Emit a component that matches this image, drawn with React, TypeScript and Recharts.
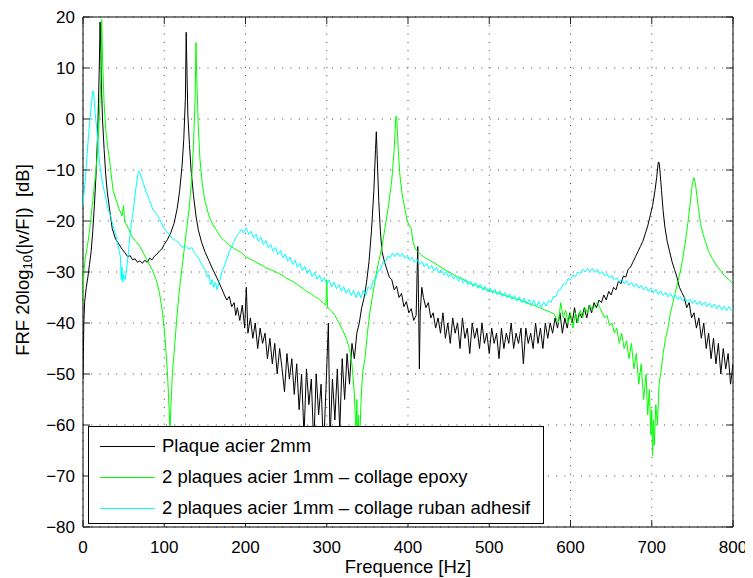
import React from 'react';
import { LineChart, Line, XAxis, YAxis, CartesianGrid, ReferenceArea, Legend } from 'recharts';

// ---------- data ----------
const X_TICKS = [0, 100, 200, 300, 400, 500, 600, 700, 800];
const Y_TICKS = [-80, -70, -60, -50, -40, -30, -20, -10, 0, 10, 20];

const SERIES_NAMES = [
  'Plaque acier 2mm',
  '2 plaques acier 1mm \u2013 collage epoxy',
  '2 plaques acier 1mm \u2013 collage ruban adhesif',
];

// Plaque acier 2mm : [frequency Hz, dB]
const PLAQUE_2MM: [number, number][] = [
  [0, -51], [1, -40], [2, -36], [4, -33], [6, -31], [8, -28.5], [10, -26], [12, -22], [14, -17], [16, -11],
  [18, -3], [19, 3], [20, 10], [21, 19], [22, 13], [23, 5], [24, 0], [26, -6], [28, -11], [30, -14.5],
  [33, -18], [36, -21.5], [40, -23.5], [44, -24.5], [48, -25.5], [52, -26.3], [55, -27], [58, -26.8], [61, -27.6], [64, -27.4],
  [67, -28.1], [70, -27.8], [73, -28.3], [76, -27.7], [79, -28.1], [82, -27.3], [85, -27.6], [88, -26.9], [91, -26.5], [94, -25.9],
  [97, -25.5], [100, -24.6], [104, -23.6], [108, -22.3], [112, -20.5], [116, -17.5], [119, -14], [122, -9], [124, -4], [126, 4],
  [127, 17], [128, 9], [129, 1], [131, -5], [133, -10], [136, -15], [139, -19], [142, -21.8], [146, -24.2], [150, -26],
  [155, -27.8], [160, -29.6], [165, -31.2], [170, -33], [174, -34.5], [177, -35.5], [180, -34.8], [183, -36.8], [186, -36], [188, -38.5],
  [190, -37], [193, -39.5], [196, -36.5], [199, -41], [201, -33], [203, -42], [206, -39], [209, -43], [212, -40], [215, -45],
  [218, -41], [221, -44], [224, -42], [227, -47], [230, -43], [233, -48], [236, -44], [239, -50], [242, -45], [245, -49],
  [248, -53.5], [251, -46], [254, -51], [257, -47], [260, -54], [263, -48], [266, -57], [269, -50], [272, -62], [275, -49],
  [278, -56], [281, -51], [284, -64], [287, -50], [290, -58], [293, -52], [296, -65], [299, -53], [302, -40], [304, -63],
  [307, -51], [310, -59], [313, -49], [316, -61], [319, -47], [322, -55], [325, -46], [328, -52], [331, -44], [334, -47],
  [337, -42], [340, -40], [343, -37], [346, -35], [349, -32], [352, -28], [355, -22], [358, -14], [360, -6], [361, -2.5],
  [362, -7], [364, -16], [366, -22], [368, -26], [371, -28], [374, -29.5], [377, -31], [380, -31.5], [383, -33.5], [386, -32.8],
  [389, -35], [392, -34.2], [395, -36.8], [398, -35.8], [401, -38], [404, -37.2], [407, -39.5], [410, -38.5], [412, -25], [413, -36],
  [414, -49], [415, -38], [417, -33], [419, -35], [422, -37], [425, -36], [428, -39], [431, -38], [434, -41], [437, -39],
  [440, -42], [443, -38], [446, -43], [449, -40], [452, -44], [455, -39], [458, -42], [461, -40], [464, -45], [467, -39],
  [470, -43], [473, -41], [476, -46], [479, -40], [482, -43], [485, -41], [488, -45], [491, -40], [494, -44], [497, -42],
  [500, -46], [503, -41], [506, -44], [509, -42], [512, -47], [515, -41], [518, -45], [521, -42], [524, -44], [527, -40],
  [530, -45], [533, -42], [536, -44], [539, -41], [542, -48], [545, -41], [548, -44], [551, -42], [554, -45], [557, -40],
  [560, -44], [563, -41], [566, -45], [569, -40], [572, -43], [575, -40], [578, -42], [581, -39], [584, -41], [587, -38],
  [590, -42], [593, -39], [596, -41], [599, -38], [602, -40], [605, -37], [608, -40], [611, -38], [614, -39], [617, -37],
  [620, -39], [623, -36.5], [626, -38], [629, -36], [632, -37], [635, -35.5], [638, -36], [641, -34.5], [644, -35.5], [647, -33.8],
  [650, -34.5], [653, -33], [656, -33.5], [659, -31.8], [662, -32.3], [665, -30.8], [668, -31], [671, -29.5], [674, -29], [677, -28],
  [680, -27], [683, -26], [686, -25], [689, -24], [692, -22.5], [695, -21], [698, -19], [701, -17], [704, -14], [706, -11.5],
  [708, -8.5], [709, -8.5], [710, -10], [712, -14], [714, -18], [716, -21], [719, -24], [722, -26], [725, -28], [728, -29.5],
  [731, -31], [734, -33], [737, -34], [740, -35], [743, -37], [746, -36], [749, -39], [752, -38], [755, -41], [758, -39],
  [761, -43], [764, -40], [767, -45], [770, -42], [773, -47], [776, -43], [779, -48], [782, -44], [785, -50], [788, -45],
  [791, -49], [794, -46], [797, -52], [800, -48],
];

// 2 plaques acier 1mm - collage epoxy : [frequency Hz, dB]
const EPOXY: [number, number][] = [
  [0, -36], [1, -30], [3, -27], [6, -24.3], [8, -22], [10, -19], [12, -16], [14, -13], [16, -10], [18, -6],
  [20, 0], [22, 8], [23, 19.5], [24, 12], [26, 3], [28, -2], [30, -5], [33, -8.5], [37, -14], [40, -15.5],
  [44, -17.5], [48, -19], [50, -17], [51, -20], [53, -20.5], [56, -21.5], [60, -23], [65, -24], [70, -25], [75, -26.5],
  [80, -28], [85, -29.5], [90, -31.5], [94, -34], [98, -38], [101, -43], [104, -50], [106, -57], [107, -62], [108, -57],
  [110, -50], [113, -44], [116, -38], [119, -33], [122, -29], [125, -25], [128, -21], [131, -17], [134, -11], [136, -5],
  [138, 4], [139, 15], [140, 8], [142, -2], [144, -8], [147, -13], [150, -16], [155, -19], [160, -20.8], [165, -22],
  [170, -23.3], [175, -24], [180, -24.8], [185, -25.3], [190, -25.8], [195, -26.2], [200, -27], [205, -27.4], [210, -27.8], [215, -28.3],
  [220, -28.6], [225, -29.2], [230, -29.5], [235, -29.8], [240, -30.2], [245, -30.6], [250, -31.2], [255, -31.6], [260, -32], [265, -32.6],
  [270, -33.2], [275, -33.8], [280, -34.2], [285, -34.8], [290, -35.3], [295, -36], [299, -36.5], [300, -31.5], [301, -37], [305, -37.5],
  [310, -38.5], [315, -40], [320, -41.5], [324, -43], [328, -45], [331, -48], [334, -54], [336, -62], [337, -55], [338, -64],
  [339, -58], [340, -66], [342, -56], [344, -50], [347, -47], [350, -42], [353, -38], [356, -35], [360, -31], [364, -28],
  [368, -25], [372, -21], [376, -17], [380, -12], [383, -6], [385, 0.5], [386, 0.5], [388, -6], [390, -11], [393, -15],
  [396, -17.5], [399, -20], [402, -21], [404, -21.5], [406, -24], [409, -25.5], [412, -26], [416, -26.6], [420, -27.1], [425, -27.6],
  [430, -28], [436, -28.6], [442, -29.2], [448, -29.8], [454, -30.3], [460, -30.9], [466, -31.3], [472, -31.8], [478, -32.3], [484, -32.6],
  [490, -33], [496, -33.4], [502, -33.7], [508, -34], [514, -34.3], [520, -34.6], [526, -34.9], [532, -35.2], [538, -35.5], [544, -35.9],
  [550, -36.3], [556, -36.6], [562, -37], [568, -37.4], [574, -37.8], [580, -38.2], [585, -40], [588, -36], [591, -39], [594, -37.5],
  [597, -40], [600, -38], [603, -41], [606, -38], [609, -40], [612, -37.5], [615, -39], [618, -37], [621, -38], [624, -36.5],
  [627, -37.5], [630, -36.5], [633, -36], [636, -37], [639, -38], [642, -39], [645, -38.5], [648, -40.5], [651, -40], [654, -42],
  [657, -41], [660, -44], [663, -42], [666, -45], [669, -43.5], [672, -47], [675, -44], [678, -49], [681, -46], [684, -52],
  [687, -48], [690, -55], [693, -50], [695, -58], [697, -53], [699, -62], [700, -57], [701, -66], [702, -59], [703, -64],
  [705, -56], [707, -60], [709, -52], [711, -50], [714, -46], [717, -43], [720, -41], [723, -38], [726, -36], [729, -34],
  [732, -32], [735, -30], [738, -27.5], [741, -24.5], [744, -21], [747, -17], [750, -12.5], [752, -11.5], [754, -13], [757, -17],
  [760, -20.5], [763, -22.5], [766, -24], [770, -26], [775, -27.5], [780, -28.8], [785, -29.8], [790, -30.8], [795, -31.5], [800, -32.3],
];

// 2 plaques acier 1mm - collage ruban adhesif : [frequency Hz, dB]
const RUBAN: [number, number][] = [
  [0, -17], [1, -15], [2.5, -12.5], [5, -7], [8, -1], [10, 2.5], [12, 5.5], [13, 5.3], [15, 1], [17, -2],
  [19, -6], [21, -9.5], [23, -11.5], [25, -13.3], [28, -15.5], [31, -17.8], [34, -19], [37, -21], [40, -22.5], [42, -24],
  [44, -25.5], [46, -27], [47, -31.5], [48, -29], [49, -32], [50, -30.5], [52, -31.5], [54, -29], [56, -26], [58, -22.5],
  [60, -20], [62, -17.8], [64, -15], [66, -12.5], [68, -10.5], [69, -10.2], [71, -11], [74, -12.5], [78, -14.5], [82, -16],
  [86, -17.8], [90, -18.5], [94, -19.5], [98, -21], [102, -22], [106, -22.5], [110, -23.5], [114, -23.8], [118, -24.3], [122, -25.2],
  [126, -24.8], [130, -25.5], [134, -25.2], [138, -26.5], [142, -27.2], [146, -28.5], [150, -29.5], [153, -31], [155, -30.5], [157, -32.5],
  [159, -31.5], [161, -33], [163, -32], [165, -33.5], [167, -32], [169, -31.5], [171, -30], [174, -28.8], [177, -27.5], [180, -26],
  [183, -25], [186, -24], [189, -23], [192, -22.3], [195, -21.6], [198, -22.3], [201, -21.3], [204, -22.6], [207, -22], [210, -23.3],
  [213, -22.6], [216, -24], [219, -23.2], [222, -24.6], [225, -23.8], [228, -25.3], [231, -24.6], [234, -26], [237, -25.2], [240, -26.6],
  [243, -25.8], [246, -27.2], [249, -26.5], [252, -27.9], [255, -27.1], [258, -28.5], [261, -27.7], [264, -29.1], [267, -28.3], [270, -29.7],
  [273, -28.9], [276, -30.3], [279, -29.5], [282, -30.9], [285, -30.1], [288, -31.4], [291, -30.6], [294, -31.9], [297, -31.1], [300, -32.4],
  [303, -31.6], [306, -32.9], [309, -32], [312, -33.3], [315, -32.5], [318, -33.8], [321, -32.9], [324, -34.2], [327, -33.3], [330, -34.6],
  [333, -33.6], [336, -35], [339, -33.8], [342, -35.1], [345, -33.6], [348, -34.6], [351, -32.9], [354, -33.4], [357, -31.6], [360, -31.6],
  [363, -29.8], [366, -29.6], [369, -28.1], [372, -28.2], [375, -26.9], [378, -27.2], [381, -26.3], [384, -27], [387, -26.2], [390, -27],
  [393, -26.4], [396, -27.3], [399, -26.7], [402, -27.7], [405, -27.1], [408, -28.1], [411, -27.5], [414, -28.5], [417, -27.9], [420, -29],
  [423, -28.3], [426, -29.4], [429, -28.7], [432, -29.8], [435, -29.1], [438, -30.2], [441, -29.5], [444, -30.6], [447, -29.9], [450, -31],
  [453, -30.3], [456, -31.4], [459, -30.7], [462, -31.8], [465, -31], [468, -32.2], [471, -31.4], [474, -32.5], [477, -31.8], [480, -32.9],
  [483, -32.1], [486, -33.2], [489, -32.4], [492, -33.6], [495, -32.8], [498, -33.9], [501, -33.1], [504, -34.2], [507, -33.4], [510, -34.5],
  [513, -33.7], [516, -34.8], [519, -34], [522, -35.1], [525, -34.3], [528, -35.4], [531, -34.6], [534, -35.7], [537, -34.9], [540, -36],
  [543, -35.1], [546, -36.3], [549, -35.4], [552, -36.5], [555, -35.6], [558, -36.8], [561, -35.8], [564, -36.9], [567, -35.9], [570, -36.7],
  [573, -35.6], [576, -36], [579, -34.8], [582, -34.8], [585, -33.6], [588, -33.4], [591, -32.4], [594, -32.4], [597, -31.3], [600, -31.5],
  [603, -30.6], [606, -30.9], [609, -30], [612, -30.3], [615, -29.5], [618, -30], [621, -29.3], [624, -29.9], [627, -29.3], [630, -30.1],
  [633, -29.5], [636, -30.4], [639, -29.9], [642, -30.8], [645, -30.3], [648, -31.2], [651, -30.7], [654, -31.6], [657, -31.1], [660, -32],
  [663, -31.4], [666, -32.3], [669, -31.7], [672, -32.6], [675, -32], [678, -32.9], [681, -32.3], [684, -33.2], [687, -32.6], [690, -33.5],
  [693, -32.9], [696, -33.8], [699, -33.1], [702, -34.1], [705, -33.4], [708, -34.4], [711, -33.7], [714, -34.6], [717, -34], [720, -34.9],
  [723, -34.2], [726, -35.1], [729, -34.5], [732, -35.4], [735, -34.8], [738, -35.7], [741, -35], [744, -35.9], [747, -35.3], [750, -36.2],
  [753, -35.5], [756, -36.4], [759, -35.7], [762, -36.6], [765, -35.9], [768, -36.8], [771, -36.1], [774, -37], [777, -36.3], [780, -37.2],
  [783, -36.5], [786, -37.4], [789, -36.7], [792, -37.6], [795, -36.8], [798, -37.5], [800, -37],
];

// ---------- styling ----------
const COLORS = ['#000000', '#00ff00', '#00ffff'];
const FONT = '"Liberation Sans", Arial, Helvetica, sans-serif';
const TICK_FS = 17;
const LABEL_FS = 18.5;
const W = 745;
const H = 570;
const MARGIN = { top: 9, right: 20, bottom: 0, left: 0 };
const Y_AXIS_W = 75;
const X_AXIS_H = 51;
const PL = MARGIN.left + Y_AXIS_W;
const PR = W - MARGIN.right;
const PT = MARGIN.top;
const PB = H - MARGIN.bottom - X_AXIS_H;
const TICK_LEN = 7;

const toRows = (pts: [number, number][]) => pts.map(([f, v]) => ({ f, v }));
const SERIES = [PLAQUE_2MM, EPOXY, RUBAN].map((pts, i) => ({
  name: SERIES_NAMES[i],
  color: COLORS[i],
  rows: toRows(pts),
}));

const fmt = (v: number) => (v < 0 ? '\u2212' + Math.abs(v) : String(v));

const YTick = (props: any) => {
  const { y, payload } = props;
  return (
    <g>
      <line x1={PL} x2={PL + TICK_LEN} y1={y} y2={y} stroke="#222" strokeWidth={1} />
      <line x1={PR - TICK_LEN} x2={PR} y1={y} y2={y} stroke="#222" strokeWidth={1} />
      <text x={PL - 8} y={y} textAnchor="end" dominantBaseline="central" fontSize={TICK_FS} fontFamily={FONT} fill="#000">
        {fmt(payload.value)}
      </text>
    </g>
  );
};

const XTick = (props: any) => {
  const { x, payload } = props;
  return (
    <g>
      <line x1={x} x2={x} y1={PB} y2={PB - TICK_LEN} stroke="#222" strokeWidth={1} />
      <line x1={x} x2={x} y1={PT} y2={PT + TICK_LEN} stroke="#222" strokeWidth={1} />
      <text x={x} y={PB + 14} dy="0.71em" textAnchor="middle" fontSize={TICK_FS} fontFamily={FONT} fill="#000">
        {fmt(payload.value)}
      </text>
    </g>
  );
};

const XLabel = () => (
  <text x={(PL + PR) / 2} y={H - 5} textAnchor="middle" fontSize={LABEL_FS} fontFamily={FONT} fill="#000">
    Frequence [Hz]
  </text>
);

const YLabel = () => {
  const cx = 14;
  const cy = (PT + PB) / 2 - 12;
  return (
    <text
      x={cx}
      y={cy}
      transform={`rotate(-90, ${cx}, ${cy})`}
      textAnchor="middle"
      dominantBaseline="central"
      fontSize={LABEL_FS}
      fontFamily={FONT}
      fill="#000"
      style={{ whiteSpace: 'pre' }}
    >
      FRF 20log
      <tspan fontSize={13} dy={5}>10</tspan>
      <tspan dy={-5}>{'(|v/F|)\u00a0\u00a0[dB]'}</tspan>
    </text>
  );
};

const LegendBox = () => (
  <div
    style={{
      width: 456,
      height: 98,
      boxSizing: 'border-box',
      border: '1px solid #000',
      background: '#fff',
      position: 'relative',
      fontFamily: FONT,
      fontSize: LABEL_FS,
      color: '#000',
    }}
  >
    {SERIES.map((s, i) => (
      <div
        key={i}
        style={{
          position: 'absolute',
          left: 0,
          top: 4 + i * 31,
          height: 30,
          display: 'flex',
          alignItems: 'center',
          whiteSpace: 'nowrap',
        }}
      >
        <div style={{ marginLeft: 11, width: 55, height: 0, borderTop: `1px solid ${s.color}` }} />
        <span style={{ marginLeft: 7 }}>{s.name}</span>
      </div>
    ))}
  </div>
);

export default function App() {
  return (
    <div style={{ width: W, height: H, background: '#fff' }}>
      <LineChart width={W} height={H} margin={MARGIN}>
        <CartesianGrid stroke="#444" strokeDasharray="1 7.3" />
        <XAxis
          dataKey="f"
          type="number"
          domain={[0, 800]}
          ticks={X_TICKS}
          interval={0}
          height={X_AXIS_H}
          axisLine={false}
          tickLine={false}
          tick={<XTick />}
          allowDataOverflow
          label={<XLabel />}
        />
        <YAxis
          dataKey="v"
          type="number"
          domain={[-80, 20]}
          ticks={Y_TICKS}
          interval={0}
          width={Y_AXIS_W}
          axisLine={false}
          tickLine={false}
          tick={<YTick />}
          allowDataOverflow
          label={<YLabel />}
        />
        {SERIES.map((s) => (
          <Line
            key={s.name}
            data={s.rows}
            dataKey="v"
            name={s.name}
            type="linear"
            stroke={s.color}
            strokeWidth={1}
            dot={false}
            activeDot={false}
            isAnimationActive={false}
          />
        ))}
        <ReferenceArea x1={0} x2={800} y1={-80} y2={20} fill="none" stroke="#000" strokeWidth={1} ifOverflow="visible" />
        <Legend
          content={<LegendBox />}
          layout="horizontal"
          verticalAlign="middle"
          align="center"
          wrapperStyle={{ left: 80, top: 418, width: 456, height: 98 }}
        />
      </LineChart>
    </div>
  );
}
